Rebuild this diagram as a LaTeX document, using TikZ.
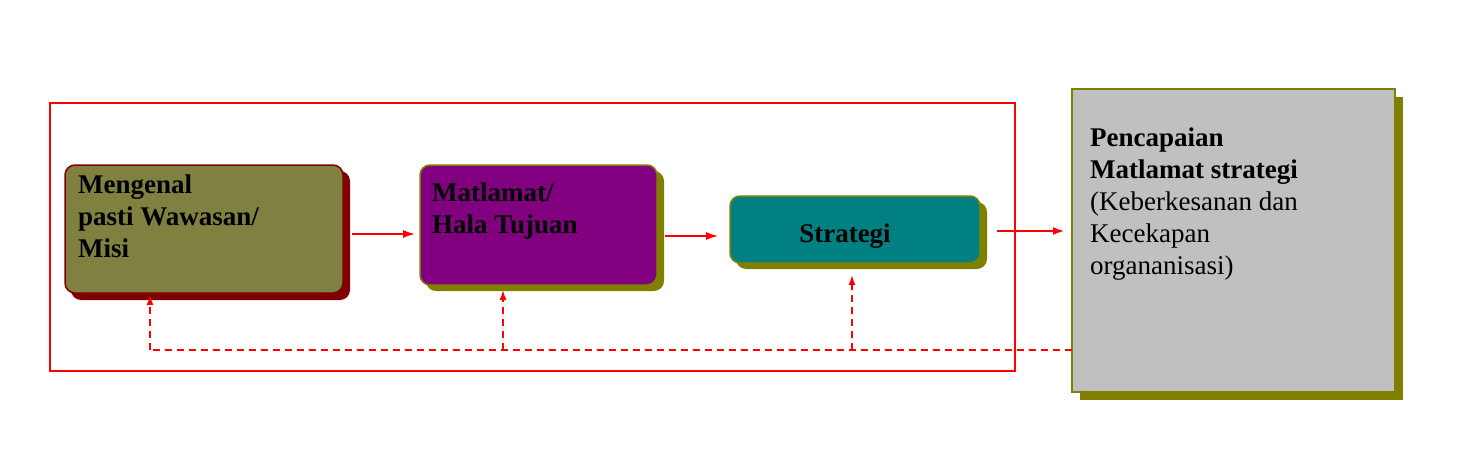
\documentclass[tikz,border=0pt]{standalone}
\usepackage{fontspec}
\setmainfont{Liberation Serif}
\usetikzlibrary{arrows.meta}
\definecolor{olv}{HTML}{808040}
\definecolor{olvd}{HTML}{808000}
\definecolor{dred}{HTML}{800000}
\definecolor{purp}{HTML}{800080}
\definecolor{tealc}{HTML}{008080}
\definecolor{grayc}{HTML}{C0C0C0}
\tikzset{
 box/.style={rounded corners=10pt, draw=#1, line width=1.5pt, anchor=north west, inner sep=0pt},
 txt/.style={font=\fontsize{27}{32}\selectfont\bfseries, align=left, anchor=north west, inner sep=0pt},
 arr/.style={red, line width=1.5pt, -{Latex[length=12pt,width=8pt]}},
 fb/.style={red, line width=1.5pt, dashed, dash pattern=on 7pt off 5pt},
}
\begin{document}
\begin{tikzpicture}[x=1pt,y=-1pt]
\useasboundingbox (0,0) rectangle (1475,468);
\draw[red, line width=1.2pt] (50,103) rectangle (1015,371);
% box 1
\fill[dred, rounded corners=10pt] (71,171) rectangle (350,300);
\draw[box=dred, fill=olv] (65,165) rectangle (343,293);
\node[txt] (b1) at (78,175) {Mengenal\\pasti Wawasan/\\Misi};
\coordinate (b1r) at (343,234);
\coordinate (b1b) at (150,300);
% box 2
\fill[olvd, rounded corners=10pt] (426,171) rectangle (664,291);
\draw[box=olvd, fill=purp] (420,165) rectangle (657,285);
\node[txt] (b2) at (432,183) {Matlamat/\\Hala Tujuan};
\coordinate (b2l) at (420,234); \coordinate (b2r) at (657,236);
\coordinate (b2b) at (503,295);
% box 3
\fill[olvd, rounded corners=10pt] (736,202) rectangle (987,269);
\draw[box=olvd, fill=tealc] (730,196) rectangle (980,263);
\node[txt, anchor=center] (b3) at (845,236) {Strategi};
\coordinate (b3l) at (730,236); \coordinate (b3r) at (980,231);
\coordinate (b3b) at (852,280);
% box 4
\fill[olvd] (1080,97) rectangle (1403,400);
\draw[draw=olvd, line width=2pt, fill=grayc] (1072,89) rectangle (1395,392);
\node[txt, font=\fontsize{27}{32}\selectfont, anchor=north west] (b4) at (1090,128)
 {\textbf{Pencapaian}\\\textbf{Matlamat strategi}\\(Keberkesanan dan\\Kecekapan\\organanisasi)};
\coordinate (b4l) at (1072,350);
% arrows
\draw[arr] ([xshift=9pt]b1r) -- ([xshift=-5pt]b2l);
\draw[arr] ([xshift=8pt]b2r) -- ([xshift=-12pt]b3l);
\draw[arr, line width=2.5pt] ([xshift=17pt]b3r) -- (1065,231);
% feedback
\draw[fb] (b4l) -- (150,350);
\draw[fb, -{Latex[length=10pt,width=7pt]}] (150,350) -- ([yshift=5pt]b1b);
\draw[fb, -{Latex[length=10pt,width=7pt]}] (503,350) -- ([yshift=5pt]b2b);
\draw[fb, -{Latex[length=10pt,width=7pt]}] (852,350) -- ([yshift=5pt]b3b);
\end{tikzpicture}
\end{document}
